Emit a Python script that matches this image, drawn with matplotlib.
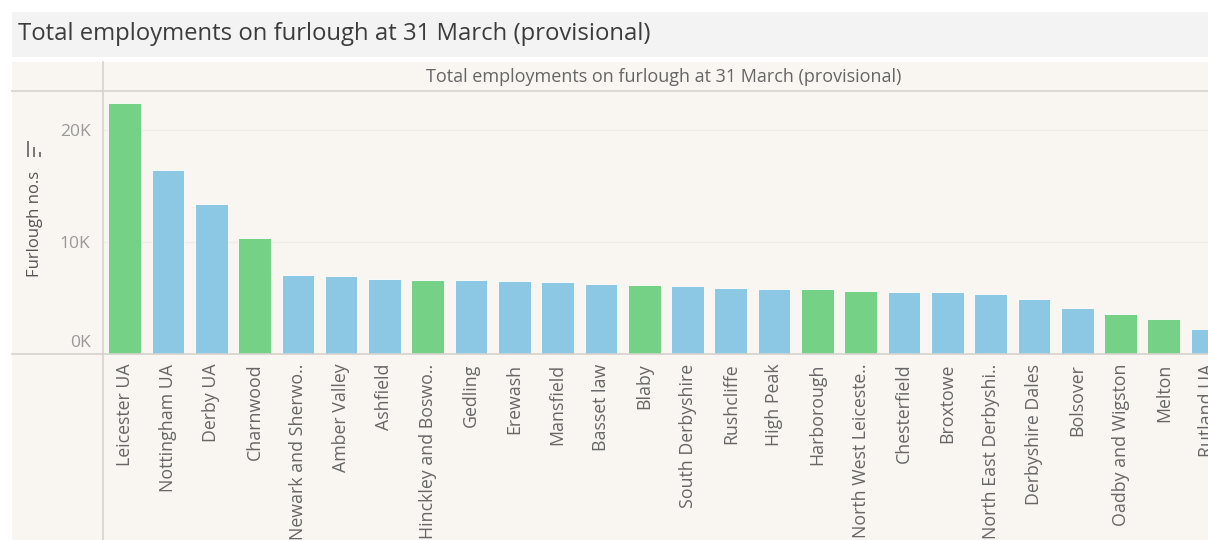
import matplotlib.pyplot as plt
from matplotlib.patches import Rectangle
from matplotlib.lines import Line2D
from matplotlib.ticker import FuncFormatter
import matplotlib.transforms as mtransforms

plt.rcParams['font.family'] = ['Open Sans', 'DejaVu Sans']

# datos
areas = ["Leicester UA", "Nottingham UA", "Derby UA", "Charnwood",
         "Newark and Sherwood", "Amber Valley", "Ashfield",
         "Hinckley and Bosworth", "Gedling", "Erewash", "Mansfield",
         "Bassetlaw", "Blaby", "South Derbyshire", "Rushcliffe", "High Peak",
         "Harborough", "North West Leicestershire", "Chesterfield", "Broxtowe",
         "North East Derbyshire", "Derbyshire Dales", "Bolsover",
         "Oadby and Wigston", "Melton", "Rutland UA"]
tick_labels = ["Leicester UA", "Nottingham UA", "Derby UA", "Charnwood",
               "Newark and Sherwo..", "Amber Valley", "Ashfield",
               "Hinckley and Boswo..", "Gedling", "Erewash", "Mansfield",
               "Basset law", "Blaby", "South Derbyshire", "Rushcliffe", "High Peak",
               "Harborough", "North West Leiceste..", "Chesterfield", "Broxtowe",
               "North East Derbyshi..", "Derbyshire Dales", "Bolsover",
               "Oadby and Wigston", "Melton", "Rutland UA"]
furlough = [22400, 16400, 13400, 10400, 7080, 6960, 6700, 6580, 6580, 6560,
            6430, 6280, 6160, 6040, 5920, 5780, 5780, 5650, 5510, 5510,
            5380, 4940, 4080, 3540, 3120, 2200]
leicestershire = [True, False, False, True, False, False, False, True, False,
                  False, False, False, True, False, False, False, True, True,
                  False, False, False, False, False, True, True, False]

GREEN = '#75d186'
BLUE = '#8cc7e4'
W, H = 1208, 540

fig = plt.figure(figsize=(W / 100, H / 100), dpi=100)
fig.patch.set_facecolor('white')

def fx(px):
    return px / W

def fy(py):
    return 1 - py / H

# banda del titulo y panel
fig.patches.append(Rectangle((fx(12), fy(57)), fx(W - 12), 45 / H,
                             transform=fig.transFigure, facecolor='#f3f3f3',
                             edgecolor='none', zorder=0))
fig.patches.append(Rectangle((fx(12), 0), fx(W - 12), fy(62),
                             transform=fig.transFigure, facecolor='#f9f5f0',
                             edgecolor='none', zorder=0))
fig.text(fx(18), fy(34), "Total employments on furlough at 31 March (provisional)",
         fontsize=17.2, color='#3c3c3c', va='center', ha='left')
fig.text(fx(664), fy(77), "Total employments on furlough at 31 March (provisional)",
         fontsize=13, color='#666666', va='center', ha='center')

# lineas del marco
for l in [Line2D([fx(12), 1], [fy(91), fy(91)]),
          Line2D([fx(12), 1], [fy(354), fy(354)]),
          Line2D([fx(103), fx(103)], [0, fy(62)])]:
    l.set_transform(fig.transFigure)
    l.set_color('#d6d3cf')
    l.set_linewidth(1.2)
    l.set_zorder(5)
    fig.add_artist(l)

# icono de orden
for x0, top in [(26.5, 141), (32.5, 147.5), (38.5, 152)]:
    fig.patches.append(Rectangle((fx(x0), fy(156.7)), fx(2.6), (156.7 - top) / H,
                                 transform=fig.transFigure, facecolor='#7a7a7a',
                                 edgecolor='none'))

ax = fig.add_axes([fx(103), fy(354), fx(W - 103), (354 - 91) / H])
ax.set_zorder(2)
ax.set_facecolor('none')
colors = [GREEN if g else BLUE for g in leicestershire]
x = range(len(areas))
ax.bar(x, furlough, width=0.755, color=colors, edgecolor='white',
       linewidth=0.6, zorder=3)
ax.set_xlim(-0.5, 25.02)
ax.set_ylim(0, 23480)
ax.set_yticks([0, 10000, 20000])
ax.yaxis.set_major_formatter(FuncFormatter(lambda v, p: f"{int(v / 1000)}K"))
ax.grid(axis='y', color='#efebe6', linewidth=1, zorder=0)
for s in ax.spines.values():
    s.set_visible(False)
ax.tick_params(axis='both', length=0)
ax.tick_params(axis='y', labelsize=12.5, labelcolor='#999999', pad=9)
ax.set_xticks(list(x))
ax.set_xticklabels(tick_labels, rotation=90, fontsize=12.8, color='#666666',
                   va='top', ha='center')
ax.tick_params(axis='x', pad=7)
# la etiqueta 0K va por encima de la linea base, como en Tableau
lab0 = ax.get_yticklabels()[0]
lab0.set_transform(lab0.get_transform() +
                   mtransforms.ScaledTranslation(0, 13 / 100, fig.dpi_scale_trans))

fig.text(fx(35), fy(224), "Furlough no.s", rotation=90, fontsize=12,
         color='#555555', va='center', ha='center')

fig.savefig('out.png', dpi=100, facecolor=fig.get_facecolor())
